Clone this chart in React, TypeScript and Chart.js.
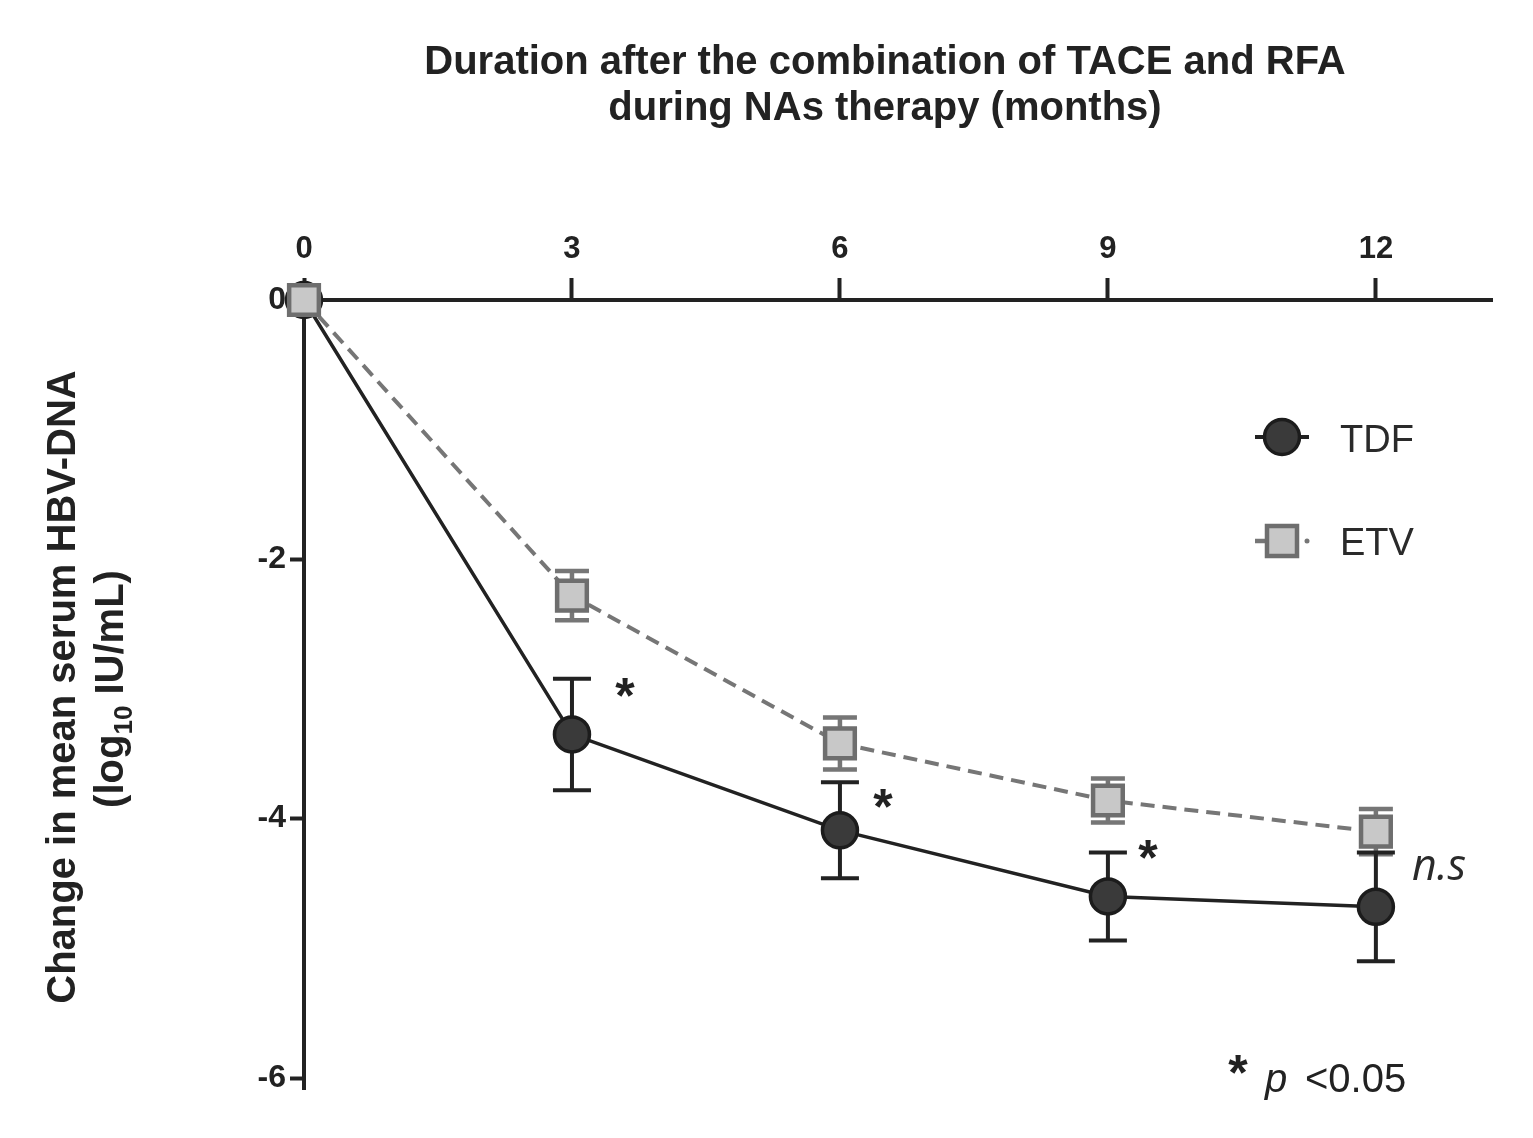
import { useEffect, useRef } from "react";
import { Chart, registerables } from "chart.js";

Chart.register(...registerables);

// ---- data ----
const months = [0, 3, 6, 9, 12];
const xTicks = [0, 3, 6, 9, 12];
const yTicks = [0, -2, -4, -6];
const tdfMean = [0, -3.35, -4.09, -4.6, -4.68];
const tdfErr = [0, 0.43, 0.37, 0.34, 0.42];
const etvMean = [0, -2.28, -3.42, -3.86, -4.1];
const etvErr = [0, 0.19, 0.2, 0.17, 0.175];
const sigMonths = [3, 6, 9];
const sigMarks = ["*", "*", "*"];
const nsMonth = 12;
const nsLabel = "n.s";
const titleLines = ["Duration after the combination of TACE and RFA", "during NAs therapy (months)"];
const yTitle1 = "Change in mean serum HBV-DNA";
const yTitle2Parts = ["(log", "10", " IU/mL)"];
const seriesNames = ["TDF", "ETV"];

const FONT = '"Liberation Sans", Arial, Helvetica, sans-serif';

const overlay = {
  id: "overlay",
  beforeDatasetsDraw(chart: any) {
    const { ctx, scales } = chart;
    const x = scales.x;
    const y = scales.y;
    const drawBars = (means: number[], errs: number[], color: string, width: number, capHalf: number) => {
      ctx.save();
      ctx.strokeStyle = color;
      ctx.lineWidth = width;
      means.forEach((m, i) => {
        const e = errs[i];
        if (!e) return;
        const px = x.getPixelForValue(months[i]);
        const top = y.getPixelForValue(m + e);
        const bot = y.getPixelForValue(m - e);
        ctx.beginPath();
        ctx.moveTo(px, top);
        ctx.lineTo(px, bot);
        ctx.moveTo(px - capHalf, top);
        ctx.lineTo(px + capHalf, top);
        ctx.moveTo(px - capHalf, bot);
        ctx.lineTo(px + capHalf, bot);
        ctx.stroke();
      });
      ctx.restore();
    };
    drawBars(etvMean, etvErr, "#767676", 4.5, 17);
    drawBars(tdfMean, tdfErr, "#222", 4, 19);
  },
  afterDraw(chart: any) {
    const { ctx, scales, chartArea } = chart;
    const x = scales.x;
    const y = scales.y;
    ctx.save();
    // y-axis small extension below -6
    ctx.strokeStyle = "#222";
    ctx.lineWidth = 4;
    ctx.beginPath();
    ctx.moveTo(chartArea.left, chartArea.bottom);
    ctx.lineTo(chartArea.left, chartArea.bottom + 12);
    ctx.stroke();

    // Title
    ctx.fillStyle = "#222";
    ctx.font = `bold 40px ${FONT}`;
    ctx.textAlign = "center";
    ctx.textBaseline = "alphabetic";
    ctx.fillText(titleLines[0], 885, 74);
    ctx.fillText(titleLines[1], 885, 120);

    // Y title
    ctx.save();
    ctx.translate(75, 687);
    ctx.rotate(-Math.PI / 2);
    ctx.textAlign = "center";
    ctx.fillText(yTitle1, 0, 0);
    ctx.restore();

    ctx.save();
    ctx.translate(123, 689);
    ctx.rotate(-Math.PI / 2);
    ctx.textAlign = "left";
    const big = `bold 40px ${FONT}`;
    const small = `bold 26px ${FONT}`;
    ctx.font = big;
    const w0 = ctx.measureText(yTitle2Parts[0]).width;
    const w2 = ctx.measureText(yTitle2Parts[2]).width;
    ctx.font = small;
    const w1 = ctx.measureText(yTitle2Parts[1]).width;
    let cx = -(w0 + w1 + w2) / 2;
    ctx.font = big;
    ctx.fillText(yTitle2Parts[0], cx, 0);
    cx += w0;
    ctx.font = small;
    ctx.fillText(yTitle2Parts[1], cx, 9);
    cx += w1;
    ctx.font = big;
    ctx.fillText(yTitle2Parts[2], cx, 0);
    ctx.restore();

    // Significance asterisks (anchored to TDF upper error bar)
    const offs = [
      [53, 6],
      [43, 14],
      [40, -5],
    ];
    ctx.font = `bold 50px ${FONT}`;
    ctx.textAlign = "center";
    ctx.fillStyle = "#222";
    sigMonths.forEach((m, k) => {
      const i = months.indexOf(m);
      const px = x.getPixelForValue(m) + offs[k][0];
      const py = y.getPixelForValue(tdfMean[i] + tdfErr[i]) + offs[k][1];
      ctx.fillText(sigMarks[k], px, py + 28);
    });

    // n.s
    {
      const i = months.indexOf(nsMonth);
      const px = x.getPixelForValue(nsMonth) + 36;
      const py = y.getPixelForValue(tdfMean[i]) - 27;
      ctx.font = `italic 43px "Open Sans", ${FONT}`;
      ctx.textAlign = "left";
      ctx.fillStyle = "#2a2a2a";
      ctx.fillText(nsLabel, px, py);
    }

    // p < 0.05 note
    ctx.fillStyle = "#222";
    ctx.textAlign = "center";
    ctx.font = `bold 50px ${FONT}`;
    ctx.fillText("*", 1238, 1062 + 28);
    ctx.textAlign = "left";
    ctx.font = `italic 40px ${FONT}`;
    ctx.fillText("p", 1265, 1092);
    ctx.font = `40px ${FONT}`;
    ctx.fillText("<0.05", 1305, 1092);

    // Legend
    // TDF
    ctx.strokeStyle = "#222";
    ctx.lineWidth = 4;
    ctx.beginPath();
    ctx.moveTo(1255, 437);
    ctx.lineTo(1309, 437);
    ctx.stroke();
    ctx.beginPath();
    ctx.arc(1282, 437, 17.5, 0, Math.PI * 2);
    ctx.fillStyle = "#3a3a3a";
    ctx.fill();
    ctx.lineWidth = 3.5;
    ctx.strokeStyle = "#1c1c1c";
    ctx.stroke();
    // ETV
    ctx.strokeStyle = "#767676";
    ctx.lineWidth = 4.5;
    ctx.beginPath();
    ctx.moveTo(1255, 541);
    ctx.lineTo(1267, 541);
    ctx.stroke();
    ctx.fillStyle = "#c8c8c8";
    ctx.fillRect(1267, 526, 30, 30);
    ctx.strokeStyle = "#6e6e6e";
    ctx.strokeRect(1267, 526, 30, 30);
    ctx.beginPath();
    ctx.arc(1307, 541, 2.5, 0, Math.PI * 2);
    ctx.fillStyle = "#767676";
    ctx.fill();

    ctx.fillStyle = "#2a2a2a";
    ctx.font = `38px ${FONT}`;
    ctx.textAlign = "left";
    ctx.fillText(seriesNames[0], 1340, 452);
    ctx.fillText(seriesNames[1], 1340, 555);
    ctx.restore();
  },
};

export default function App() {
  const ref = useRef<HTMLCanvasElement | null>(null);
  useEffect(() => {
    if (!ref.current) return;
    const chart = new Chart(ref.current, {
      type: "line",
      data: {
        datasets: [
          {
            label: seriesNames[1],
            data: months.map((m, i) => ({ x: m, y: etvMean[i] })),
            borderColor: "#767676",
            borderWidth: 4,
            borderDash: [14, 8],
            pointStyle: "rect",
            pointRadius: 21,
            pointBackgroundColor: "#c8c8c8",
            pointBorderColor: "#6e6e6e",
            pointBorderWidth: 4.5,
            tension: 0,
            clip: false,
            order: 0,
          } as any,
          {
            label: seriesNames[0],
            data: months.map((m, i) => ({ x: m, y: tdfMean[i] })),
            borderColor: "#222",
            borderWidth: 3.5,
            pointStyle: "circle",
            pointRadius: 17.5,
            pointBackgroundColor: "#3a3a3a",
            pointBorderColor: "#1c1c1c",
            pointBorderWidth: 3.5,
            tension: 0,
            clip: false,
            order: 1,
          } as any,
        ],
      },
      options: {
        responsive: false,
        animation: false,
        layout: { padding: { left: 0, top: 0, right: 41, bottom: 60 } },
        plugins: {
          legend: { display: false },
          tooltip: { enabled: false },
          title: { display: false },
        },
        scales: {
          x: {
            type: "linear",
            position: "top",
            min: 0,
            max: 13.3,
            afterBuildTicks: (s: any) => {
              s.ticks = xTicks.map((v) => ({ value: v }));
            },
            afterFit: (s: any) => {
              s.height = 300;
            },
            grid: {
              drawOnChartArea: false,
              drawTicks: true,
              tickLength: 22,
              tickWidth: 4,
              tickColor: "#222",
            },
            border: { display: true, color: "#222", width: 4 },
            ticks: {
              color: "#222",
              font: { family: FONT, weight: "bold", size: 31 },
              padding: 10,
              maxRotation: 0,
            },
          },
          y: {
            type: "linear",
            min: -6,
            max: 0,
            afterBuildTicks: (s: any) => {
              s.ticks = yTicks.map((v) => ({ value: v }));
            },
            afterFit: (s: any) => {
              s.width = 304;
            },
            grid: {
              drawOnChartArea: false,
              drawTicks: true,
              tickLength: 14,
              tickWidth: 4,
              tickColor: "#222",
            },
            border: { display: true, color: "#222", width: 4 },
            ticks: {
              color: "#222",
              font: { family: FONT, weight: "bold", size: 32 },
              padding: 4,
            },
          },
        },
      } as any,
      plugins: [overlay],
    });
    return () => chart.destroy();
  }, []);
  return (
    <div style={{ position: "absolute", left: 0, top: 0, width: 1533, height: 1138, background: "#fff" }}>
      <canvas ref={ref} width={1533} height={1138} style={{ display: "block", width: 1533, height: 1138 }} />
    </div>
  );
}
